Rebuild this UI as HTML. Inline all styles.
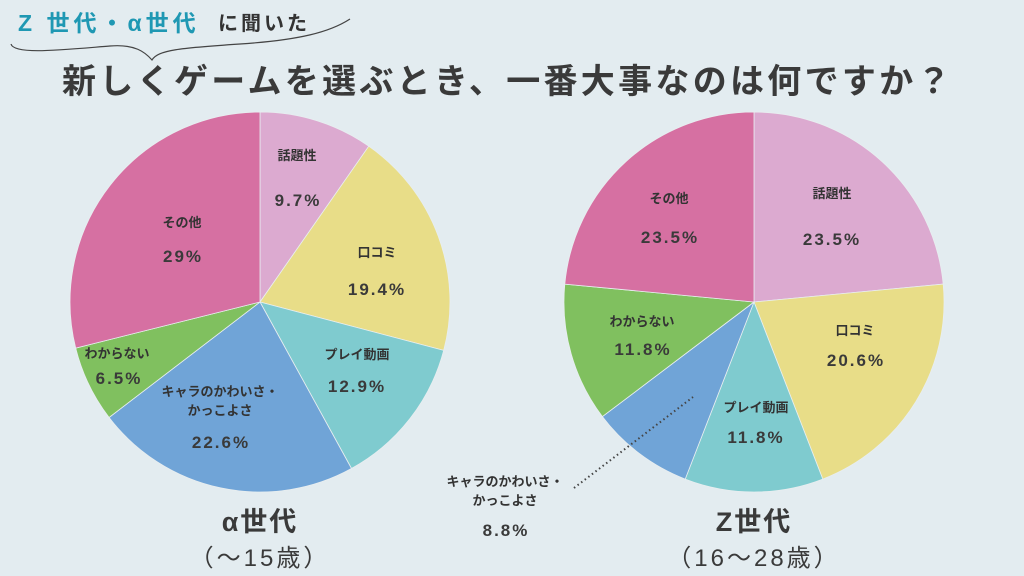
<!DOCTYPE html>
<html><head><meta charset="utf-8"><style>
html,body{margin:0;padding:0;background:#e3ecf0;}
svg{display:block;font-family:"Liberation Sans","Noto Sans CJK JP",sans-serif;}
.n{font-size:13px;font-weight:bold;fill:#333;text-anchor:middle;}
.p{font-size:17px;font-weight:bold;fill:#3a3a3a;text-anchor:middle;letter-spacing:2px;}
</style></head><body>
<svg width="1024" height="576" viewBox="0 0 1024 576">
<rect width="1024" height="576" fill="#e3ecf0"/>
<text x="18" y="31" font-size="23" font-weight="bold" fill="#1f98b3" letter-spacing="4">Z 世代・α世代</text>
<text x="218" y="30" font-size="20" font-weight="bold" fill="#333" letter-spacing="3">に聞いた</text>
<path d="M11 44 C14 55 60 50 110 46 C135 44 145 52 152 60 C158 50 180 48 240 44 C300 40 330 32 350 19" fill="none" stroke="#444" stroke-width="1.2"/>
<text x="62" y="93" font-size="34" font-weight="bold" fill="#3a3a3a" letter-spacing="3.3">新しくゲームを選ぶとき、一番大事なのは何ですか？</text>
<g stroke="#e8eef0" stroke-width="0.8">
<path d="M260 302 L260 112 A190 190 0 0 1 368.8 146.2Z" fill="#dcaad0"/>
<path d="M260 302 L368.8 146.2 A190 190 0 0 1 443.7 350.4Z" fill="#e8dd88"/>
<path d="M260 302 L443.7 350.4 A190 190 0 0 1 351.5 468.5Z" fill="#7fcbcf"/>
<path d="M260 302 L351.5 468.5 A190 190 0 0 1 109.1 417.5Z" fill="#70a4d7"/>
<path d="M260 302 L109.1 417.5 A190 190 0 0 1 75.7 348.1Z" fill="#80c05f"/>
<path d="M260 302 L75.7 348.1 A190 190 0 0 1 260 112Z" fill="#d670a2"/>
<path d="M754 302 L754 112 A190 190 0 0 1 943.2 284.1Z" fill="#dcaad0"/>
<path d="M754 302 L943.2 284.1 A190 190 0 0 1 822.8 479.1Z" fill="#e8dd88"/>
<path d="M754 302 L822.8 479.1 A190 190 0 0 1 685.2 479.1Z" fill="#7fcbcf"/>
<path d="M754 302 L685.2 479.1 A190 190 0 0 1 602.4 416.6Z" fill="#70a4d7"/>
<path d="M754 302 L602.4 416.6 A190 190 0 0 1 564.8 284.1Z" fill="#80c05f"/>
<path d="M754 302 L564.8 284.1 A190 190 0 0 1 754 112Z" fill="#d670a2"/>
</g>
<text class="n" x="297" y="160">話題性</text><text class="p" x="298" y="206">9.7%</text>
<text class="n" x="377" y="257">口コミ</text><text class="p" x="377" y="295">19.4%</text>
<text class="n" x="357" y="359">プレイ動画</text><text class="p" x="357" y="392">12.9%</text>
<text class="n" x="220" y="396">キャラのかわいさ・</text><text class="n" x="220" y="415">かっこよさ</text><text class="p" x="221" y="448">22.6%</text>
<text class="n" x="117" y="358">わからない</text><text class="p" x="119" y="384">6.5%</text>
<text class="n" x="182" y="227">その他</text><text class="p" x="183" y="262">29%</text>
<text class="n" x="832" y="198">話題性</text><text class="p" x="832" y="245">23.5%</text>
<text class="n" x="855" y="335">口コミ</text><text class="p" x="856" y="366">20.6%</text>
<text class="n" x="756" y="412">プレイ動画</text><text class="p" x="756" y="443">11.8%</text>
<text class="n" x="642" y="326">わからない</text><text class="p" x="643" y="355">11.8%</text>
<text class="n" x="669" y="203">その他</text><text class="p" x="670" y="243">23.5%</text>
<line x1="574" y1="488" x2="693" y2="397" stroke="#444" stroke-width="2" stroke-dasharray="1.5 3"/>
<text class="n" x="505" y="486">キャラのかわいさ・</text><text class="n" x="505" y="505">かっこよさ</text><text class="p" x="506" y="536">8.8%</text>
<text x="260" y="531" font-size="27" font-weight="bold" fill="#3a3a3a" text-anchor="middle" letter-spacing="2">α世代</text>
<text x="260" y="566" font-size="24" fill="#3a3a3a" text-anchor="middle" letter-spacing="3">（～15歳）</text>
<text x="754" y="531" font-size="27" font-weight="bold" fill="#3a3a3a" text-anchor="middle" letter-spacing="2">Z世代</text>
<text x="754" y="566" font-size="24" fill="#3a3a3a" text-anchor="middle" letter-spacing="3">（16～28歳）</text>
</svg>
</body></html>
